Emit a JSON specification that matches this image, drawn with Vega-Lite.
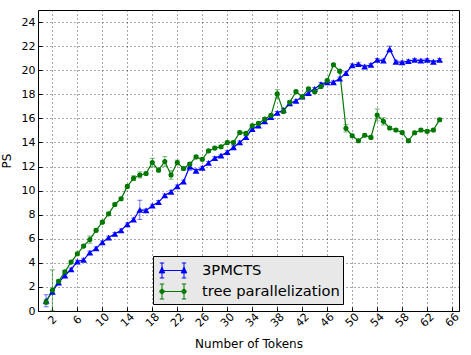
{
  "$schema": "https://vega.github.io/schema/vega-lite/v6.json",
  "width": 421,
  "height": 301,
  "autosize": {"type": "none"},
  "padding": {"left": 38, "top": 10, "right": 12, "bottom": 44},
  "background": "white",
  "config": {
    "font": "DejaVu Sans",
    "view": {"stroke": "#000", "strokeWidth": 1},
    "axis": {
      "gridColor": "#000", "gridDash": [1, 3], "gridOpacity": 0.7, "gridWidth": 1,
      "domain": false, "ticks": true, "tickSize": -4, "tickColor": "#000", "tickWidth": 1,
      "labelColor": "#000", "labelFontSize": 11, "titleColor": "#000", "titleFontSize": 12, "titleFontWeight": "normal"
    }
  },
  "data": {"values": [
    {"tokens":1,"ps":0.85,"err":0.5,"series":"3PMCTS"},
    {"tokens":2,"ps":1.6,"err":0.12,"series":"3PMCTS"},
    {"tokens":3,"ps":2.35,"err":0.12,"series":"3PMCTS"},
    {"tokens":4,"ps":2.95,"err":0.12,"series":"3PMCTS"},
    {"tokens":5,"ps":3.45,"err":0.12,"series":"3PMCTS"},
    {"tokens":6,"ps":4.1,"err":0.12,"series":"3PMCTS"},
    {"tokens":7,"ps":4.25,"err":0.12,"series":"3PMCTS"},
    {"tokens":8,"ps":4.85,"err":0.12,"series":"3PMCTS"},
    {"tokens":9,"ps":5.2,"err":0.12,"series":"3PMCTS"},
    {"tokens":10,"ps":5.7,"err":0.12,"series":"3PMCTS"},
    {"tokens":11,"ps":6.1,"err":0.12,"series":"3PMCTS"},
    {"tokens":12,"ps":6.4,"err":0.12,"series":"3PMCTS"},
    {"tokens":13,"ps":6.7,"err":0.12,"series":"3PMCTS"},
    {"tokens":14,"ps":7.2,"err":0.12,"series":"3PMCTS"},
    {"tokens":15,"ps":7.6,"err":0.12,"series":"3PMCTS"},
    {"tokens":16,"ps":8.4,"err":0.8,"series":"3PMCTS"},
    {"tokens":17,"ps":8.35,"err":0.12,"series":"3PMCTS"},
    {"tokens":18,"ps":8.75,"err":0.12,"series":"3PMCTS"},
    {"tokens":19,"ps":9.05,"err":0.12,"series":"3PMCTS"},
    {"tokens":20,"ps":9.6,"err":0.12,"series":"3PMCTS"},
    {"tokens":21,"ps":9.9,"err":0.12,"series":"3PMCTS"},
    {"tokens":22,"ps":10.35,"err":0.12,"series":"3PMCTS"},
    {"tokens":23,"ps":10.75,"err":0.12,"series":"3PMCTS"},
    {"tokens":24,"ps":12.0,"err":0.3,"series":"3PMCTS"},
    {"tokens":25,"ps":11.65,"err":0.12,"series":"3PMCTS"},
    {"tokens":26,"ps":11.9,"err":0.12,"series":"3PMCTS"},
    {"tokens":27,"ps":12.3,"err":0.12,"series":"3PMCTS"},
    {"tokens":28,"ps":12.7,"err":0.12,"series":"3PMCTS"},
    {"tokens":29,"ps":12.9,"err":0.12,"series":"3PMCTS"},
    {"tokens":30,"ps":13.2,"err":0.12,"series":"3PMCTS"},
    {"tokens":31,"ps":13.6,"err":0.12,"series":"3PMCTS"},
    {"tokens":32,"ps":14.0,"err":0.12,"series":"3PMCTS"},
    {"tokens":33,"ps":14.45,"err":0.12,"series":"3PMCTS"},
    {"tokens":34,"ps":15.1,"err":0.12,"series":"3PMCTS"},
    {"tokens":35,"ps":15.4,"err":0.12,"series":"3PMCTS"},
    {"tokens":36,"ps":15.75,"err":0.12,"series":"3PMCTS"},
    {"tokens":37,"ps":16.1,"err":0.12,"series":"3PMCTS"},
    {"tokens":38,"ps":16.45,"err":0.12,"series":"3PMCTS"},
    {"tokens":39,"ps":16.7,"err":0.12,"series":"3PMCTS"},
    {"tokens":40,"ps":17.25,"err":0.12,"series":"3PMCTS"},
    {"tokens":41,"ps":17.45,"err":0.12,"series":"3PMCTS"},
    {"tokens":42,"ps":17.8,"err":0.12,"series":"3PMCTS"},
    {"tokens":43,"ps":18.1,"err":0.12,"series":"3PMCTS"},
    {"tokens":44,"ps":18.45,"err":0.12,"series":"3PMCTS"},
    {"tokens":45,"ps":18.85,"err":0.12,"series":"3PMCTS"},
    {"tokens":46,"ps":19.0,"err":0.12,"series":"3PMCTS"},
    {"tokens":47,"ps":19.0,"err":0.12,"series":"3PMCTS"},
    {"tokens":48,"ps":19.3,"err":0.12,"series":"3PMCTS"},
    {"tokens":49,"ps":19.75,"err":0.12,"series":"3PMCTS"},
    {"tokens":50,"ps":20.4,"err":0.12,"series":"3PMCTS"},
    {"tokens":51,"ps":20.5,"err":0.12,"series":"3PMCTS"},
    {"tokens":52,"ps":20.3,"err":0.12,"series":"3PMCTS"},
    {"tokens":53,"ps":20.45,"err":0.12,"series":"3PMCTS"},
    {"tokens":54,"ps":20.85,"err":0.12,"series":"3PMCTS"},
    {"tokens":55,"ps":20.8,"err":0.12,"series":"3PMCTS"},
    {"tokens":56,"ps":21.75,"err":0.25,"series":"3PMCTS"},
    {"tokens":57,"ps":20.7,"err":0.12,"series":"3PMCTS"},
    {"tokens":58,"ps":20.65,"err":0.12,"series":"3PMCTS"},
    {"tokens":59,"ps":20.75,"err":0.12,"series":"3PMCTS"},
    {"tokens":60,"ps":20.85,"err":0.12,"series":"3PMCTS"},
    {"tokens":61,"ps":20.8,"err":0.12,"series":"3PMCTS"},
    {"tokens":62,"ps":20.85,"err":0.12,"series":"3PMCTS"},
    {"tokens":63,"ps":20.7,"err":0.12,"series":"3PMCTS"},
    {"tokens":64,"ps":20.85,"err":0.12,"series":"3PMCTS"},
    {"tokens":1,"ps":0.75,"err":0.2,"series":"tree parallelization"},
    {"tokens":2,"ps":1.72,"err":1.7,"series":"tree parallelization"},
    {"tokens":3,"ps":2.47,"err":0.12,"series":"tree parallelization"},
    {"tokens":4,"ps":3.25,"err":0.12,"series":"tree parallelization"},
    {"tokens":5,"ps":4.06,"err":0.12,"series":"tree parallelization"},
    {"tokens":6,"ps":4.75,"err":0.12,"series":"tree parallelization"},
    {"tokens":7,"ps":5.39,"err":0.12,"series":"tree parallelization"},
    {"tokens":8,"ps":5.93,"err":0.3,"series":"tree parallelization"},
    {"tokens":9,"ps":6.7,"err":0.12,"series":"tree parallelization"},
    {"tokens":10,"ps":7.38,"err":0.12,"series":"tree parallelization"},
    {"tokens":11,"ps":8.07,"err":0.12,"series":"tree parallelization"},
    {"tokens":12,"ps":8.85,"err":0.12,"series":"tree parallelization"},
    {"tokens":13,"ps":9.32,"err":0.12,"series":"tree parallelization"},
    {"tokens":14,"ps":10.35,"err":0.12,"series":"tree parallelization"},
    {"tokens":15,"ps":11.03,"err":0.2,"series":"tree parallelization"},
    {"tokens":16,"ps":11.3,"err":0.25,"series":"tree parallelization"},
    {"tokens":17,"ps":11.42,"err":0.12,"series":"tree parallelization"},
    {"tokens":18,"ps":12.33,"err":0.35,"series":"tree parallelization"},
    {"tokens":19,"ps":11.7,"err":0.12,"series":"tree parallelization"},
    {"tokens":20,"ps":12.42,"err":0.4,"series":"tree parallelization"},
    {"tokens":21,"ps":11.3,"err":0.35,"series":"tree parallelization"},
    {"tokens":22,"ps":12.33,"err":0.2,"series":"tree parallelization"},
    {"tokens":23,"ps":11.83,"err":0.12,"series":"tree parallelization"},
    {"tokens":24,"ps":12.2,"err":0.12,"series":"tree parallelization"},
    {"tokens":25,"ps":12.8,"err":0.12,"series":"tree parallelization"},
    {"tokens":26,"ps":12.6,"err":0.12,"series":"tree parallelization"},
    {"tokens":27,"ps":13.3,"err":0.12,"series":"tree parallelization"},
    {"tokens":28,"ps":13.53,"err":0.12,"series":"tree parallelization"},
    {"tokens":29,"ps":13.64,"err":0.12,"series":"tree parallelization"},
    {"tokens":30,"ps":14.0,"err":0.12,"series":"tree parallelization"},
    {"tokens":31,"ps":14.0,"err":0.12,"series":"tree parallelization"},
    {"tokens":32,"ps":14.83,"err":0.12,"series":"tree parallelization"},
    {"tokens":33,"ps":14.75,"err":0.12,"series":"tree parallelization"},
    {"tokens":34,"ps":15.39,"err":0.12,"series":"tree parallelization"},
    {"tokens":35,"ps":15.58,"err":0.12,"series":"tree parallelization"},
    {"tokens":36,"ps":15.95,"err":0.12,"series":"tree parallelization"},
    {"tokens":37,"ps":16.25,"err":0.12,"series":"tree parallelization"},
    {"tokens":38,"ps":18.03,"err":0.35,"series":"tree parallelization"},
    {"tokens":39,"ps":16.58,"err":0.12,"series":"tree parallelization"},
    {"tokens":40,"ps":17.33,"err":0.12,"series":"tree parallelization"},
    {"tokens":41,"ps":18.22,"err":0.12,"series":"tree parallelization"},
    {"tokens":42,"ps":17.8,"err":0.12,"series":"tree parallelization"},
    {"tokens":43,"ps":18.45,"err":0.12,"series":"tree parallelization"},
    {"tokens":44,"ps":18.22,"err":0.12,"series":"tree parallelization"},
    {"tokens":45,"ps":18.64,"err":0.12,"series":"tree parallelization"},
    {"tokens":46,"ps":19.14,"err":0.12,"series":"tree parallelization"},
    {"tokens":47,"ps":20.45,"err":0.12,"series":"tree parallelization"},
    {"tokens":48,"ps":19.92,"err":0.12,"series":"tree parallelization"},
    {"tokens":49,"ps":15.17,"err":0.3,"series":"tree parallelization"},
    {"tokens":50,"ps":14.56,"err":0.12,"series":"tree parallelization"},
    {"tokens":51,"ps":14.14,"err":0.12,"series":"tree parallelization"},
    {"tokens":52,"ps":14.6,"err":0.12,"series":"tree parallelization"},
    {"tokens":53,"ps":14.42,"err":0.12,"series":"tree parallelization"},
    {"tokens":54,"ps":16.28,"err":0.5,"series":"tree parallelization"},
    {"tokens":55,"ps":15.75,"err":0.3,"series":"tree parallelization"},
    {"tokens":56,"ps":15.2,"err":0.12,"series":"tree parallelization"},
    {"tokens":57,"ps":15.03,"err":0.12,"series":"tree parallelization"},
    {"tokens":58,"ps":14.83,"err":0.12,"series":"tree parallelization"},
    {"tokens":59,"ps":14.14,"err":0.12,"series":"tree parallelization"},
    {"tokens":60,"ps":14.81,"err":0.12,"series":"tree parallelization"},
    {"tokens":61,"ps":15.03,"err":0.12,"series":"tree parallelization"},
    {"tokens":62,"ps":14.92,"err":0.12,"series":"tree parallelization"},
    {"tokens":63,"ps":15.03,"err":0.12,"series":"tree parallelization"},
    {"tokens":64,"ps":15.89,"err":0.12,"series":"tree parallelization"}
  ]},
  "encoding": {
    "x": {
      "field": "tokens", "type": "quantitative",
      "scale": {"domain": [-0.3, 67.1], "nice": false, "zero": false},
      "axis": {
        "title": "Number of Tokens",
        "values": [2, 6, 10, 14, 18, 22, 26, 30, 34, 38, 42, 46, 50, 54, 58, 62, 66],
        "labelAngle": -45, "labelAlign": "center", "labelBaseline": "middle",
        "labelPadding": 13, "titlePadding": 10
      }
    },
    "y": {
      "field": "ps", "type": "quantitative",
      "scale": {"domain": [0, 25], "nice": false},
      "axis": {
        "title": "PS",
        "values": [0, 2, 4, 6, 8, 10, 12, 14, 16, 18, 20, 22, 24],
        "labelPadding": 7, "titlePadding": 8
      }
    },
    "color": {
      "field": "series", "type": "nominal",
      "scale": {"domain": ["3PMCTS", "tree parallelization"], "range": ["#0000ff", "#007800"]},
      "legend": {
        "title": null, "orient": "none", "legendX": 115, "legendY": 246,
        "fillColor": "#e8e8e8", "strokeColor": "#000", "padding": 3,
        "labelFontSize": 14.7, "labelColor": "#000", "labelOffset": 23,
        "symbolSize": 484, "symbolStrokeWidth": 1, "rowPadding": 0,
        "symbolType": "M-1,0H1",
        "encode": {
          "symbols": {
            "update": {
              "shape": {"signal": "datum.value === '3PMCTS' ? 'M-0.5,0H1.5M-0.5,-0.68V0.68M1.5,-0.68V0.68M-0.7,-0.68H-0.3M-0.7,0.68H-0.3M1.3,-0.68H1.7M1.3,0.68H1.7M-0.75,0.22L-0.5,-0.3L-0.25,0.22ZM1.25,0.22L1.5,-0.3L1.75,0.22Z' : 'M-0.5,0H1.5M-0.5,-0.68V0.68M1.5,-0.68V0.68M-0.7,-0.68H-0.3M-0.7,0.68H-0.3M1.3,-0.68H1.7M1.3,0.68H1.7M-0.3,0A0.2,0.2 0 1,1 -0.7,0A0.2,0.2 0 1,1 -0.3,0ZM1.7,0A0.2,0.2 0 1,1 1.3,0A0.2,0.2 0 1,1 1.7,0Z'"},
              "size": {"value": 484},
              "fill": {"signal": "datum.value === '3PMCTS' ? '#0000ff' : '#007800'"},
              "stroke": {"signal": "datum.value === '3PMCTS' ? '#0000ff' : '#007800'"},
              "fillOpacity": {"value": 1},
              "strokeOpacity": {"value": 1},
              "strokeWidth": {"value": 1}
            }
          }
        }
      }
    }
  },
  "layer": [
    {
      "mark": {"type": "errorbar", "ticks": {"size": 5, "opacity": 0.55}, "rule": {"opacity": 0.55, "strokeWidth": 1}},
      "encoding": {
        "yError": {"field": "err"}
      }
    },
    {
      "mark": {"type": "line", "strokeWidth": 1.2}
    },
    {
      "transform": [{"filter": "datum.series === '3PMCTS'"}],
      "mark": {"type": "point", "filled": true, "opacity": 1, "shape": "triangle-up", "size": 45}
    },
    {
      "transform": [{"filter": "datum.series === 'tree parallelization'"}],
      "mark": {"type": "point", "filled": true, "opacity": 1, "shape": "circle", "size": 26}
    }
  ]
}
